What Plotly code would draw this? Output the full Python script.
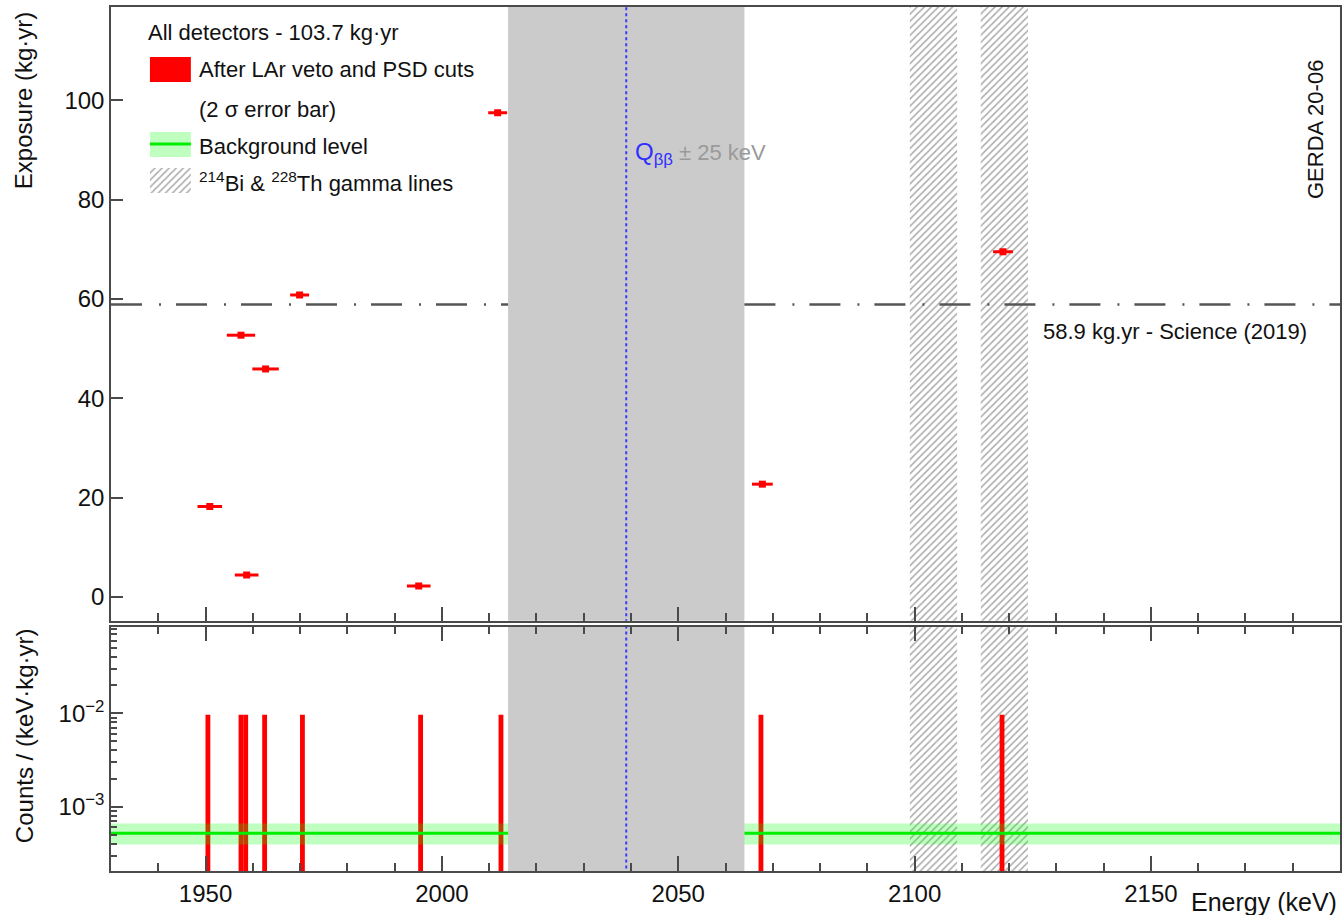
import numpy as np
import plotly.graph_objects as go

# ---------------- data ----------------
event_energy = [1950.9, 1957.5, 1958.7, 1962.7, 1969.9, 1995.1, 2011.8, 2067.8, 2118.7]
event_exposure = [18.2, 52.7, 4.4, 45.9, 60.8, 2.2, 97.5, 22.7, 69.5]
event_err_2sigma = [2.6, 3.0, 2.5, 2.8, 2.0, 2.5, 2.0, 2.2, 2.1]

bin_low = [1950, 1957, 1958, 1962, 1970, 1995, 2012, 2067, 2118]
bin_counts = [1, 1, 1, 1, 1, 1, 1, 1, 1]
bin_width = 1.0
total_exposure = 103.7

bkg_level = 5.2e-4
bkg_low = 3.95e-4
bkg_high = 6.6e-4

q_bb = 2039.0
q_window = 25.0
gamma_lines = [2104.0, 2119.0]
gamma_half = 5.0
science_exposure = 58.9

log_tick_vals = [1e-3, 1e-2]
log_tick_text = ["10<sup>−3</sup>", "10<sup>−2</sup>"]

# ---------------- geometry ----------------
W, H = 1344, 915
ML, MR, MT, MB = 111, 2, 7, 44
PW, PH = W - ML - MR, H - MT - MB
X_RANGE = [1930, 2190]
Y1_RANGE = [-4.8, 118.8]
Y2_LOG = [-3.688, -1.073]
TOP_DOM = [0.2897, 1.0]
LOW_DOM = [0.0, 0.2828]

FONT = "Liberation Sans, Arial, Helvetica, sans-serif"
AX = "#4a4a4a"


def px(xp):
    return (xp - ML) / PW


def py(yp):
    return (H - MB - yp) / PH


def data_x(xp):
    return X_RANGE[0] + (xp - ML) / PW * (X_RANGE[1] - X_RANGE[0])


top_px0 = MT
top_px1 = H - MB - TOP_DOM[0] * PH


def data_y(yp):
    return Y1_RANGE[1] - (yp - top_px0) / (top_px1 - top_px0) * (Y1_RANGE[1] - Y1_RANGE[0])


fig = go.Figure()

hatch = dict(shape="/", fgcolor="#aaaaaa", size=5, solidity=0.3, fillmode="replace")
clear = "rgba(0,0,0,0)"
win_lo, win_hi = q_bb - q_window, q_bb + q_window
gap_x = [X_RANGE[0], win_lo, None, win_hi, X_RANGE[1]]

# ---------- top panel ----------
fig.add_trace(go.Bar(
    x=gamma_lines, y=[Y1_RANGE[1] - Y1_RANGE[0] + 20] * len(gamma_lines),
    base=Y1_RANGE[0] - 10, width=2 * gamma_half,
    marker=dict(color=clear, line=dict(width=0), pattern=hatch),
    xaxis="x", yaxis="y", showlegend=False, hoverinfo="skip"))

fig.add_trace(go.Bar(
    x=[q_bb], y=[Y1_RANGE[1] - Y1_RANGE[0] + 20], base=Y1_RANGE[0] - 10, width=2 * q_window,
    marker=dict(color="#cbcbcb", line=dict(width=0)),
    xaxis="x", yaxis="y", showlegend=False, hoverinfo="skip"))

fig.add_trace(go.Scatter(
    x=gap_x, y=[science_exposure] * 5, mode="lines", connectgaps=False,
    line=dict(color="#555555", width=2.5, dash="31px,17px,2px,15px"),
    xaxis="x", yaxis="y", showlegend=False))

fig.add_trace(go.Scatter(
    x=event_energy, y=event_exposure, mode="markers",
    marker=dict(symbol="square", size=7, color="#ff0000"),
    error_x=dict(type="data", array=event_err_2sigma, color="#ff0000", thickness=3, width=0),
    xaxis="x", yaxis="y", showlegend=False))

fig.add_trace(go.Scatter(
    x=[q_bb, q_bb], y=[Y1_RANGE[0] - 10, Y1_RANGE[1] + 10], mode="lines",
    line=dict(color="#3a3aff", width=2, dash="3px,3px"),
    xaxis="x", yaxis="y", showlegend=False))

# legend hatch glyph (on top-panel axes)
gx0, gx1 = data_x(150), data_x(191)
gy0, gy1 = data_y(193), data_y(168)
fig.add_trace(go.Bar(
    x=[(gx0 + gx1) / 2], y=[gy1 - gy0], base=gy0, width=gx1 - gx0,
    marker=dict(color=clear, line=dict(width=0), pattern=hatch),
    xaxis="x", yaxis="y", showlegend=False, hoverinfo="skip"))

# ---------- lower panel ----------
lo2, hi2 = 10 ** (Y2_LOG[0] - 1), 10 ** (Y2_LOG[1] + 1)
fig.add_trace(go.Bar(
    x=gamma_lines, y=[hi2 - lo2] * len(gamma_lines), base=lo2, width=2 * gamma_half,
    marker=dict(color=clear, line=dict(width=0), pattern=hatch),
    xaxis="x2", yaxis="y2", showlegend=False, hoverinfo="skip"))

rate = [c / (bin_width * total_exposure) for c in bin_counts]
fig.add_trace(go.Bar(
    x=[b + bin_width / 2 for b in bin_low], y=[r - lo2 for r in rate], base=lo2,
    width=bin_width * 1.02, marker=dict(color="#ff0000", line=dict(width=0)),
    xaxis="x2", yaxis="y2", showlegend=False))

# background band (as a bar spanning the full energy range)
fig.add_trace(go.Bar(
    x=[(X_RANGE[0] + X_RANGE[1]) / 2], y=[bkg_high - bkg_low], base=bkg_low,
    width=X_RANGE[1] - X_RANGE[0],
    marker=dict(color="rgba(0,255,0,0.25)", line=dict(width=0)),
    xaxis="x2", yaxis="y2", showlegend=False, hoverinfo="skip"))

fig.add_trace(go.Bar(
    x=[q_bb], y=[hi2 - lo2], base=lo2, width=2 * q_window,
    marker=dict(color="#cbcbcb", line=dict(width=0)),
    xaxis="x2", yaxis="y2", showlegend=False, hoverinfo="skip"))

fig.add_trace(go.Scatter(
    x=gap_x, y=[bkg_level] * 5, mode="lines", connectgaps=False,
    line=dict(color="#00ee00", width=3),
    xaxis="x2", yaxis="y2", showlegend=False))

fig.add_trace(go.Scatter(
    x=[q_bb, q_bb], y=[lo2, hi2], mode="lines",
    line=dict(color="#3a3aff", width=2, dash="3px,3px"),
    xaxis="x2", yaxis="y2", showlegend=False))

# ---------- axes ----------
TICKFONT = dict(size=24, color="#111", family=FONT)
common_x = dict(range=X_RANGE, showgrid=False, zeroline=False, showline=True,
                linecolor=AX, linewidth=1.5, ticks="inside", tickcolor=AX, tickwidth=1.5,
                tick0=1950, dtick=50, tickfont=TICKFONT)
minor_log = [k * 10.0 ** e for e in (-4, -3, -2) for k in range(2, 10)]

fig.update_layout(
    width=W, height=H, margin=dict(l=ML, r=MR, t=MT, b=MB),
    paper_bgcolor="white", plot_bgcolor="white", barmode="overlay",
    font=dict(family=FONT, size=22, color="#111"),
    xaxis=dict(common_x, anchor="y", domain=[0, 1], showticklabels=False, mirror=True,
               ticklen=14, minor=dict(dtick=10, ticks="inside", ticklen=8,
                                      tickcolor=AX, tickwidth=1.5)),
    yaxis=dict(range=Y1_RANGE, domain=TOP_DOM, anchor="x", showgrid=False, zeroline=False,
               showline=True, mirror=True, linecolor=AX, linewidth=1.5,
               ticks="inside", ticklen=12, tickcolor=AX, tickwidth=1.5,
               tick0=0, dtick=20, tickfont=TICKFONT),
    xaxis2=dict(common_x, anchor="y2", domain=[0, 1], mirror="ticks", ticklen=15,
                minor=dict(dtick=10, ticks="inside", ticklen=8, tickcolor=AX, tickwidth=1.5)),
    yaxis2=dict(type="log", range=Y2_LOG, domain=LOW_DOM, anchor="x2", showgrid=False,
                zeroline=False, showline=True, mirror=True, linecolor=AX, linewidth=1.5,
                ticks="inside", ticklen=12, tickcolor=AX, tickwidth=1.5,
                tickmode="array", tickvals=log_tick_vals, ticktext=log_tick_text,
                tickfont=TICKFONT,
                minor=dict(tickvals=minor_log, ticks="inside", ticklen=6,
                           tickcolor=AX, tickwidth=1.5)),
)

# ---------- annotations ----------
def ann(text, xp, yp, xanchor="left", size=22, color="#111", angle=0):
    fig.add_annotation(text=text, x=px(xp), y=py(yp), xref="paper", yref="paper",
                       xanchor=xanchor, yanchor="middle", showarrow=False,
                       textangle=angle, font=dict(size=size, color=color, family=FONT))


ann("Exposure (kg·yr)", 24, 101, xanchor="center", size=24, angle=-90)
ann("Counts / (keV·kg·yr)", 24, 736, xanchor="center", size=24, angle=-90)
ann("Energy (keV)", 1341, 902, xanchor="right", size=25)
ann("GERDA 20-06", 1317, 130, xanchor="center", size=22, angle=-90)
ann(f"{science_exposure} kg.yr - Science (2019)", 1311, 331, xanchor="right", size=22)
ann("<span style='color:#2f2fff;font-size:24px'>Q<sub>ββ</sub></span>"
    "<span style='color:#9a9a9a'> ± 25 keV</span>", 634, 153)

# legend
ann(f"All detectors - {total_exposure} kg·yr", 146, 33, size=22)
ann("After LAr veto and PSD cuts", 197, 70, size=22)
ann("(2 σ error bar)", 197, 110, size=22)
ann("Background level", 197, 146, size=22)
ann("<sup>214</sup>Bi &amp; <sup>228</sup>Th gamma lines", 197, 182, size=22)

fig.add_shape(type="rect", xref="paper", yref="paper",
              x0=px(150), x1=px(191), y0=py(82), y1=py(57),
              fillcolor="#ff0000", line=dict(width=0))
fig.add_shape(type="rect", xref="paper", yref="paper",
              x0=px(150), x1=px(191), y0=py(157), y1=py(132),
              fillcolor="rgba(0,255,0,0.25)", line=dict(width=0))
fig.add_shape(type="line", xref="paper", yref="paper",
              x0=px(150), x1=px(191), y0=py(144), y1=py(144),
              line=dict(color="#00ee00", width=3))

fig.write_html("out.html")
